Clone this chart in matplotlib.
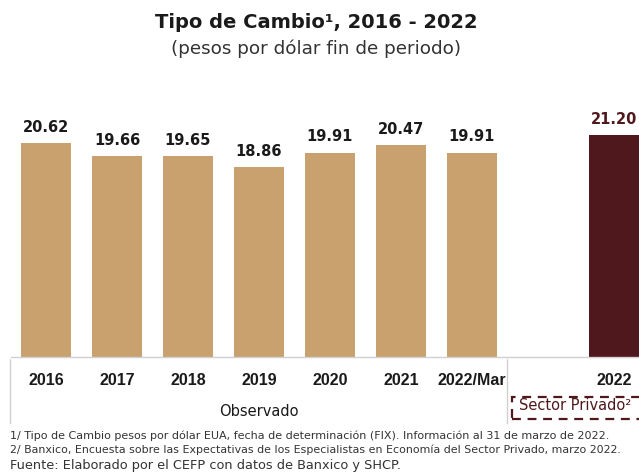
import matplotlib
matplotlib.use("Agg")
import matplotlib.pyplot as plt
from matplotlib.patches import Rectangle

# Data
observed_labels = ["2016", "2017", "2018", "2019", "2020", "2021", "2022/Mar"]
observed_values = [20.62, 19.66, 19.65, 18.86, 19.91, 20.47, 19.91]
forecast_labels = ["2022"]
forecast_values = [21.20]

TAN = "#C9A16F"
MAROON = "#4F181C"
TEXT = "#1A1A1A"
GRID = "#D0D0D0"

plt.rcParams["font.family"] = ["DejaVu Sans"]

fig = plt.figure(figsize=(6.39, 4.74), dpi=100)
W, H = 639, 474

# axes in pixel geometry: x from 10.5 (index -0.5) to 649.5 (index 8.5), y bottom 357, top 83
left_px, right_px = 10.5, 649.5
bot_px, top_px = 357.0, 83.0
ax = fig.add_axes([left_px / W, 1 - bot_px / H, (right_px - left_px) / W, (bot_px - top_px) / H])
ax.set_xlim(-0.5, 8.5)
ax.set_ylim(5, 25)
ax.axis("off")

obs_x = list(range(len(observed_values)))
fc_x = [len(observed_values) + 1 + i for i in range(len(forecast_values))]

ax.bar(obs_x, observed_values, width=0.70, color=TAN, bottom=0, zorder=2)
ax.bar(fc_x, forecast_values, width=0.70, color=MAROON, zorder=2)

for x, v in zip(obs_x, observed_values):
    ax.annotate(f"{v:.2f}", (x, v), xytext=(0, 6), textcoords="offset points",
                ha="center", va="bottom", fontsize=10.5, fontweight="bold", color=TEXT)
for x, v in zip(fc_x, forecast_values):
    ax.annotate(f"{v:.2f}", (x, v), xytext=(0, 6), textcoords="offset points",
                ha="center", va="bottom", fontsize=10.5, fontweight="bold", color=MAROON)

# category axis lines
ax.plot([-0.5, 8.5], [5, 5], color=GRID, lw=1, clip_on=False)
sep = len(observed_values) - 0.5
for xv in (-0.5, sep):
    ax.annotate("", xy=(xv, 5), xycoords="data", xytext=(0, -50), textcoords="offset points",
                arrowprops=dict(arrowstyle="-", color=GRID, lw=1))

# category labels
for x, lab in zip(obs_x + fc_x, observed_labels + forecast_labels):
    ax.annotate(lab, (x, 5), xytext=(0, -17), textcoords="offset points",
                ha="center", va="center", fontsize=11.5, fontweight="bold", color=TEXT,
                family="Liberation Sans")

# group labels
ax.annotate("Observado", ((-0.5 + sep) / 2, 5), xytext=(0, -39), textcoords="offset points",
            ha="center", va="center", fontsize=10.5, color=TEXT)

fig.text(519 / W, 1 - 405 / H, "Sector Privado²", ha="left", va="center",
         fontsize=10.5, color=MAROON)
fig.patches.append(Rectangle((512 / W, 1 - 419 / H), 140 / W, 22 / H,
                             transform=fig.transFigure, fill=False, edgecolor=MAROON,
                             lw=1.6, linestyle=(0, (4, 3))))

# titles
fig.text(316 / W, 1 - 22 / H, "Tipo de Cambio¹, 2016 - 2022", ha="center", va="center",
         fontsize=14, fontweight="bold", color=TEXT)
fig.text(316 / W, 1 - 49 / H, "(pesos por dólar fin de periodo)", ha="center", va="center",
         fontsize=13.2, color="#333333")

# footnotes
fig.text(10 / W, 1 - 436 / H,
         "1/ Tipo de Cambio pesos por dólar EUA, fecha de determinación (FIX). Información al 31 de marzo de 2022.",
         ha="left", va="center", fontsize=8.0, color="#333333")
fig.text(10 / W, 1 - 450 / H,
         "2/ Banxico, Encuesta sobre las Expectativas de los Especialistas en Economía del Sector Privado, marzo 2022.",
         ha="left", va="center", fontsize=7.9, color="#333333")
fig.text(10 / W, 1 - 465 / H, "Fuente: Elaborado por el CEFP con datos de Banxico y SHCP.",
         ha="left", va="center", fontsize=9.3, color="#333333")

fig.savefig("out.png", dpi=100)
